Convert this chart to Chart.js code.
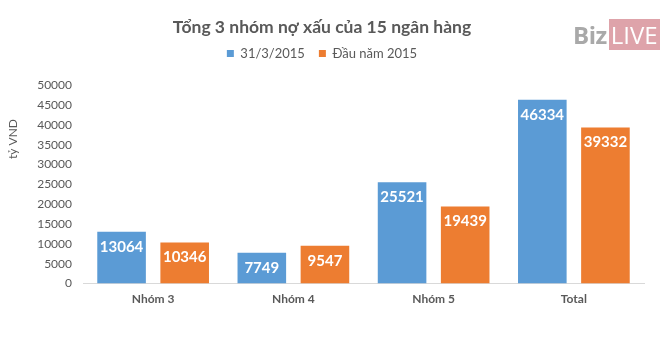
<!DOCTYPE html>
<html>
<head>
<meta charset="utf-8">
<script src="https://cdn.jsdelivr.net/npm/chart.js@4/dist/chart.umd.min.js"></script>
<style>
  html, body { margin: 0; padding: 0; background: #fff; }
  #wrap { position: relative; width: 666px; height: 344px; }
  #logo { position: absolute; left: 573px; top: 19px; height: 31px; font-family: "Open Sans", sans-serif; font-size: 24px; line-height: 31px; white-space: nowrap; }
  #logo .biz { color: #a9a9a9; font-weight: bold; letter-spacing: -0.5px; }
  #logo .live { display: inline-block; background: #dea3aa; color: #fff; padding: 0 2px; margin-left: 2px; height: 31px; }
</style>
</head>
<body>
<div id="wrap">
  <canvas id="c" width="666" height="344"></canvas>
  <div id="logo"><span class="biz">Biz</span><span class="live">LIVE</span></div>
</div>
<script>
const categories = ['Nhóm 3', 'Nhóm 4', 'Nhóm 5', 'Total'];
const seriesNames = ['31/3/2015', 'Đầu năm 2015'];
const valuesMar = [13064, 7749, 25521, 46334];
const valuesStart = [10346, 9547, 19439, 39332];
const yMax = 50000;
const yStep = 5000;
const chartTitle = 'Tổng 3 nhóm nợ xấu của 15 ngân hàng';
const yTitle = 'tỷ VND';

const FONT = 'Lato, "Open Sans", sans-serif';
const GRAY = '#595959';

const valueLabels = {
  id: 'valueLabels',
  afterDatasetsDraw(chart) {
    const ctx = chart.ctx;
    ctx.save();
    ctx.font = 'bold 15px ' + FONT;
    ctx.fillStyle = '#ffffff';
    ctx.textAlign = 'center';
    ctx.textBaseline = 'middle';
    chart.data.datasets.forEach((ds, i) => {
      chart.getDatasetMeta(i).data.forEach((bar, j) => {
        ctx.fillText(String(ds.data[j]), bar.x, bar.y + 15);
      });
    });
    ctx.restore();
  }
};

const yAxisTitle = {
  id: 'yAxisTitle',
  afterDraw(chart) {
    const ctx = chart.ctx;
    ctx.save();
    ctx.font = '12px ' + FONT;
    ctx.fillStyle = GRAY;
    ctx.textAlign = 'center';
    ctx.textBaseline = 'middle';
    ctx.translate(13, 139);
    ctx.rotate(-Math.PI / 2);
    ctx.fillText(yTitle, 0, 0);
    ctx.restore();
  }
};

new Chart(document.getElementById('c'), {
  type: 'bar',
  data: {
    labels: categories,
    datasets: [
      { label: seriesNames[0], data: valuesMar, backgroundColor: '#5b9bd5' },
      { label: seriesNames[1], data: valuesStart, backgroundColor: '#ed7d31' }
    ]
  },
  options: {
    responsive: false,
    animation: false,
    devicePixelRatio: 1,
    categoryPercentage: 0.9,
    barPercentage: 0.77,
    layout: { padding: { left: 0, right: 22, top: 0, bottom: 30 } },
    plugins: {
      title: {
        display: true,
        text: chartTitle,
        color: GRAY,
        font: { family: FONT, size: 17.5, weight: 'bold' },
        padding: { top: 17, bottom: -5 }
      },
      subtitle: {
        display: true,
        text: '',
        weight: 500,
        font: { size: 1 },
        padding: { top: 0, bottom: 14 }
      },
      legend: {
        display: true,
        position: 'top',
        labels: {
          color: GRAY,
          font: { family: FONT, size: 13 },
          boxWidth: 7,
          boxHeight: 7,
          padding: 14
        }
      },
      tooltip: { enabled: false }
    },
    scales: {
      x: {
        grid: { display: false, drawTicks: false },
        border: { color: '#d9d9d9' },
        ticks: { color: GRAY, font: { family: FONT, size: 12, weight: 'bold' }, padding: 8 }
      },
      y: {
        min: 0,
        max: yMax,
        grid: { display: false, drawTicks: false },
        border: { display: false },
        ticks: { stepSize: yStep, color: GRAY, font: { family: FONT, size: 12 }, padding: 11, callback: (v) => String(v) },
        afterFit(s) { s.width = 83; }
      }
    }
  },
  plugins: [valueLabels, yAxisTitle]
});
</script>
</body>
</html>
